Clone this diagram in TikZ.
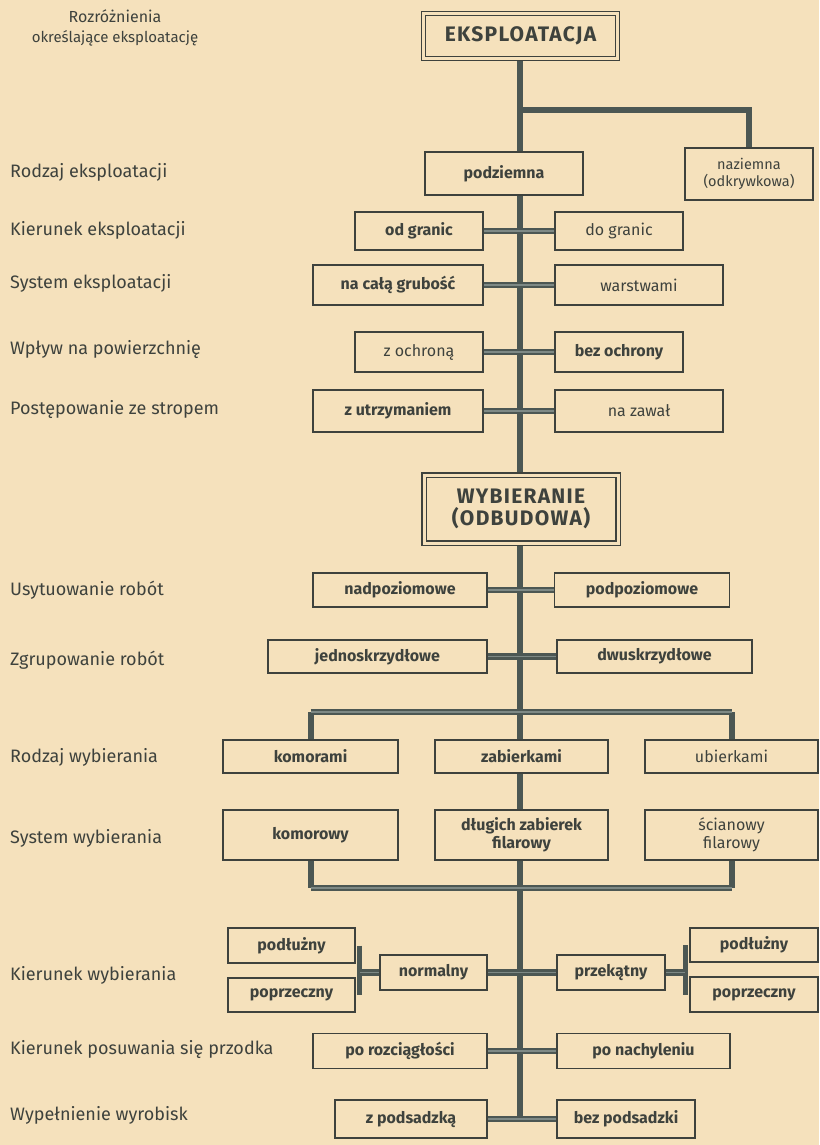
\documentclass[tikz,border=0pt]{standalone}
\usepackage{fontspec}
\setmainfont{Fira Sans}
\definecolor{bg}{HTML}{F5E1BC}
\definecolor{ink}{HTML}{3E423D}
\definecolor{bar}{HTML}{4C5753}
\definecolor{barin}{HTML}{7E8985}
\pgfdeclarelayer{back}
\pgfdeclarelayer{lines}
\pgfsetlayers{back,lines,main}
\tikzset{
 box/.style={draw=ink, line width=1.7pt, fill=bg, inner sep=0pt, align=center, text=ink, font=\fontsize{16}{18}\selectfont\bfseries},
 lbox/.style={box, font=\fontsize{16}{18}\selectfont},
 dbox/.style={box, double=bg, double distance=3pt, line width=1.3pt, font=\fontsize{21}{24}\selectfont\bfseries\addfontfeatures{LetterSpace=6}},
 lab/.style={anchor=west, text=ink, font=\fontsize{18}{20}\selectfont, inner sep=0pt},
 conn/.style={draw=bar, line width=2.4pt, double=barin, double distance=1.4pt},
 trunk/.style={draw=bar, line width=6pt},
}
\begin{document}
\begin{tikzpicture}[x=1pt,y=-1pt]
\begin{pgfonlayer}{back}
\fill[bg] (0,0) rectangle (819,1145);
\end{pgfonlayer}
\useasboundingbox (0,0) rectangle (819,1145);

% title
\node[text=ink, font=\fontsize{15}{17}\selectfont, align=center, inner sep=0pt] (title) at (115,28) {{\fontsize{16}{17}\selectfont Rozróżnienia}\\[3pt]określające eksploatację};

% left labels
\node[lab] (l1) at (10,172) {Rodzaj eksploatacji};
\node[lab] (l2) at (10,230) {Kierunek eksploatacji};
\node[lab] (l3) at (10,283) {System eksploatacji};
\node[lab] (l4) at (10,350) {Wpływ na powierzchnię};
\node[lab] (l5) at (10,410) {Postępowanie ze stropem};
\node[lab] (l6) at (10,590) {Usytuowanie robót};
\node[lab] (l7) at (10,660) {Zgrupowanie robót};
\node[lab] (l8) at (10,757) {Rodzaj wybierania};
\node[lab] (l9) at (10,838) {System wybierania};
\node[lab] (l10) at (10,975) {Kierunek wybierania};
\node[lab] (l11) at (10,1050) {Kierunek posuwania się przodka};
\node[lab] (l12) at (10,1115) {Wypełnienie wyrobisk};

% boxes
\node[dbox, minimum width=194pt, minimum height=45pt] (eksp) at (520.5,36) {EKSPLOATACJA};
\node[lbox, minimum width=128pt, minimum height=52pt, font=\fontsize{14.5}{17}\selectfont] (naz) at (749,174) {naziemna\\(odkrywkowa)};
\node[box, minimum width=158pt, minimum height=43pt] (podz) at (504,173.5) {podziemna};

\node[box, minimum width=128pt, minimum height=38pt] (odgr) at (419,231) {od granic};
\node[lbox, minimum width=128pt, minimum height=38pt] (dogr) at (619,231) {do granic};

\node[box, minimum width=170pt, minimum height=40pt] (nacala) at (398,285) {na całą grubość};
\node[lbox, minimum width=168pt, minimum height=40pt] (warst) at (639,285) {warstwami};

\node[lbox, minimum width=128pt, minimum height=40pt] (zochr) at (419,352) {z ochroną};
\node[box, minimum width=128pt, minimum height=40pt] (bezochr) at (619,352) {bez ochrony};

\node[box, minimum width=170pt, minimum height=42pt] (zutrz) at (398,411) {z utrzymaniem};
\node[lbox, minimum width=168pt, minimum height=42pt] (nazaw) at (639,411) {na zawał};

\node[dbox, minimum width=194pt, minimum height=68pt] (wyb) at (521,509) {WYBIERANIE\\[-2pt](ODBUDOWA)};

\node[box, minimum width=174pt, minimum height=34pt] (nadp) at (400,590) {nadpoziomowe};
\node[box, minimum width=175pt, minimum height=34pt] (podp) at (642,590) {podpoziomowe};

\node[box, minimum width=219pt, minimum height=33pt] (jedno) at (377.5,656.5) {jednoskrzydłowe};
\node[box, minimum width=195pt, minimum height=33pt] (dwu) at (654.5,656.5) {dwuskrzydłowe};

\node[box, minimum width=175pt, minimum height=33pt] (komi) at (310.5,756.5) {komorami};
\node[box, minimum width=173pt, minimum height=33pt] (zabi) at (521.5,756.5) {zabierkami};
\node[lbox, minimum width=173pt, minimum height=33pt] (ubi) at (731.5,756.5) {ubierkami};

\node[box, minimum width=175pt, minimum height=50pt] (komy) at (310.5,835) {komorowy};
\node[box, minimum width=173pt, minimum height=50pt] (dlug) at (521.5,835) {długich zabierek\\filarowy};
\node[lbox, minimum width=173pt, minimum height=50pt] (scian) at (731.5,835) {ścianowy\\filarowy};

\node[box, minimum width=127pt, minimum height=35pt] (podlL) at (291.5,945.5) {podłużny};
\node[box, minimum width=127pt, minimum height=34pt] (poprzL) at (291.5,995) {poprzeczny};
\node[box, minimum width=107pt, minimum height=35pt] (norm) at (433.5,972.5) {normalny};
\node[box, minimum width=108pt, minimum height=35pt] (przek) at (611,972.5) {przekątny};
\node[box, minimum width=128pt, minimum height=34pt] (podlR) at (754,945) {podłużny};
\node[box, minimum width=128pt, minimum height=35pt] (poprzR) at (754,994.5) {poprzeczny};

\node[box, minimum width=174pt, minimum height=35pt] (porozc) at (400,1051) {po rozciągłości};
\node[box, minimum width=173pt, minimum height=35pt] (ponach) at (643.5,1051) {po nachyleniu};

\node[box, minimum width=152pt, minimum height=38pt] (zpods) at (411,1119) {z podsadzką};
\node[box, minimum width=138pt, minimum height=38pt] (bezpods) at (626,1119) {bez podsadzki};

\coordinate (br1) at (520,110);
\coordinate (bar1c) at (520,712);
\coordinate (bar2c) at (520,888);
\coordinate (bL1) at ([xshift=4pt]podlL.east);
\coordinate (bL2) at ([xshift=4pt]poprzL.east);
\coordinate (bR1) at ([xshift=-4pt]podlR.west);
\coordinate (bR2) at ([xshift=-4pt]poprzR.west);

\begin{pgfonlayer}{lines}
% trunk
\draw[trunk] (eksp.south -| br1) -- (podz.north -| br1);
\draw[trunk] (podz.south -| br1) -- (wyb.north -| br1);
\draw[trunk] (wyb.south -| br1) -- (bar1c);
\draw[trunk] (zabi.south -| br1) -- (dlug.north -| br1);
\draw[trunk] (bar2c) -- (zpods.east -| bar2c);
% branch to naziemna
\draw[trunk] (br1) -| (naz.north);
% bar 1
\draw[trunk] (bar1c) -- (zabi.north -| bar1c);
\draw[trunk] (komi.north) -- (komi.north |- bar1c);
\draw[trunk] (ubi.north) -- (ubi.north |- bar1c);
\draw[conn] (komi.north |- bar1c) -- (ubi.north |- bar1c);
% bar 2
\draw[trunk] (komy.south) -- (komy.south |- bar2c);
\draw[trunk] (scian.south) -- (scian.south |- bar2c);
\draw[trunk] (dlug.south -| bar2c) -- (bar2c);
\draw[conn] (komy.south |- bar2c) -- (scian.south |- bar2c);
% pair connectors
\draw[conn] (odgr.east) -- (dogr.west);
\draw[conn] (nacala.east) -- (warst.west);
\draw[conn] (zochr.east) -- (bezochr.west);
\draw[conn] (zutrz.east) -- (nazaw.west);
\draw[conn] (nadp.east) -- (podp.west);
\draw[conn] (jedno.east) -- (dwu.west);
\draw[conn] (norm.east) -- (przek.west);
\draw[conn] (porozc.east) -- (ponach.west);
\draw[conn] (zpods.east) -- (bezpods.west);
% brackets
\draw[trunk, line width=5pt] (bL1) -- (bL2);
\draw[conn] (norm.west) -- (norm.west -| bL1);
\draw[trunk, line width=5pt] (bR1) -- (bR2);
\draw[conn] (przek.east) -- (przek.east -| bR1);
\end{pgfonlayer}
\end{tikzpicture}
\end{document}
